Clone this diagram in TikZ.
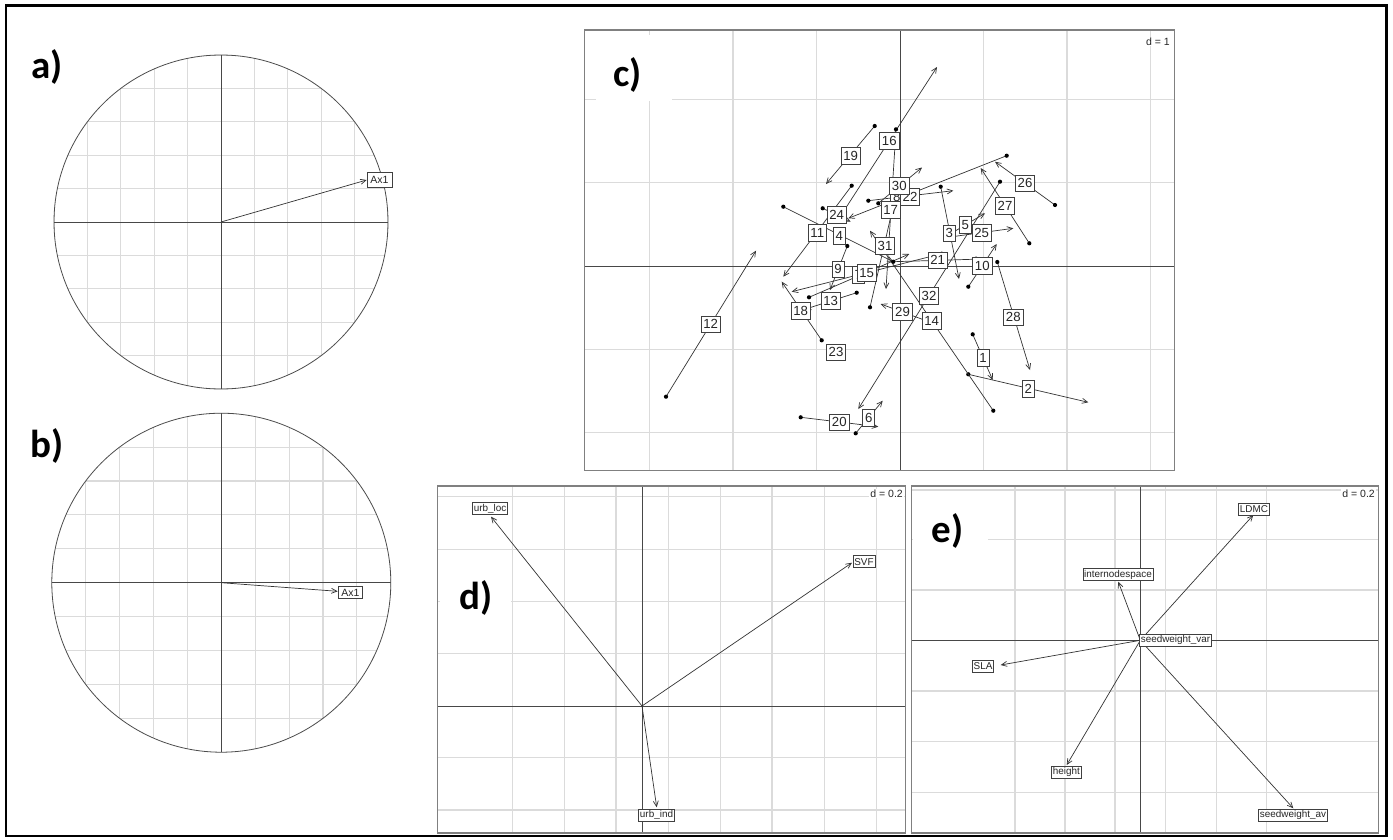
\documentclass[tikz,border=0pt]{standalone}
\usepackage{fontspec}
\setmainfont{Liberation Sans}
\newfontfamily\panelfont{Carlito}
\usetikzlibrary{arrows.meta}
\tikzset{
  gridl/.style={draw=black!14, line width=1.1pt},
  axisl/.style={draw=black!72, line width=0.9pt},
  framel/.style={draw=black!50, line width=1.3pt},
  circl/.style={draw=black!70, line width=0.8pt},
  conn/.style={draw=black!80, line width=0.7pt, -{Straight Barb[length=5.5pt,width=5pt]}},
  numbox/.style={draw=black!75, line width=0.8pt, fill=white, font=\fontsize{13.2}{13}\selectfont, text=black!85, inner xsep=2.4pt, inner ysep=0pt, minimum height=16.5pt},
  varbox/.style={draw=black!75, line width=0.7pt, fill=white, font=\fontsize{9.9}{10}\selectfont, text=black!85, inner xsep=1.3pt, inner ysep=0pt, minimum height=12pt},
  axbox/.style={draw=black!75, line width=0.7pt, fill=white, font=\fontsize{10.5}{10}\selectfont, text=black!85, inner sep=0pt},
  panellbl/.style={font=\panelfont\bfseries\fontsize{39}{39}\selectfont, inner sep=0pt},
  dlbl/.style={font=\fontsize{10.5}{10}\selectfont, text=black!85, fill=white, inner sep=1pt},
  patch/.style={fill=white},
  dotp/.style={fill=black},
}
\begin{document}
\begin{tikzpicture}[x=1pt,y=-1pt]
\useasboundingbox (0,0) rectangle (1393,839);
\fill[white] (0,0) rectangle (1393,839);

% ---------------- panel a ----------------
\begin{scope}
  \clip (221,222) circle[radius=167pt];
  \foreach \k in {-5,-4,-3,-2,-1,1,2,3,4,5} {
    \draw[gridl] ({221+\k*33.4},50) -- ({221+\k*33.4},394);
    \draw[gridl] (50,{222+\k*33.4}) -- (392,{222+\k*33.4});
  }
\end{scope}
\draw[axisl] (54,222) -- (388,222);
\draw[axisl] (221,55) -- (221,389);
\draw[circl] (221,222) circle[radius=167pt];
\coordinate (ao) at (221,222);
\coordinate (at) at (366.7,180);
\draw[conn] (ao) -- (at);
\node[axbox, minimum width=25pt, minimum height=15pt] (alab) at (379.5,180) {Ax1};
\node[panellbl] (apl) at (47,66.5) {a)};

% ---------------- panel b ----------------
\begin{scope}
  \clip (221.3,582.7) circle[radius=169.5pt];
  \foreach \k in {-5,-4,-3,-2,-1,1,2,3,4,5} {
    \draw[gridl] ({221.3+\k*33.9},410) -- ({221.3+\k*33.9},756);
    \draw[gridl] (48,{582.7+\k*33.9}) -- (394,{582.7+\k*33.9});
  }
\end{scope}
\draw[axisl] (51.8,582.7) -- (390.8,582.7);
\draw[axisl] (221.3,413.2) -- (221.3,752.2);
\draw[circl] (221.3,582.7) circle[radius=169.5pt];
\coordinate (bo) at (221.3,582.7);
\coordinate (bt) at (337.7,591.3);
\draw[conn] (bo) -- (bt);
\node[axbox, minimum width=24pt, minimum height=12pt] (blab) at (350.3,592.5) {Ax1};
\node[panellbl] (bpl) at (47,446) {b)};

% ---------------- panel c ----------------
\foreach \x in {649.5,733,816.5,983.5,1067,1150.5}
  \draw[gridl] (\x,30) -- (\x,470.7);
\foreach \y in {99.2,182.6,349.4,432.8}
  \draw[gridl] (584.7,\y) -- (1174.4,\y);
\draw[axisl] (900,30) -- (900,470.7);
\draw[axisl] (584.7,266) -- (1174.4,266);
\fill[patch] (596,35) rectangle (672,101);
\node[panellbl] (cpl) at (627.6,75) {c)};
\draw[framel] (584.7,30) rectangle (1174.4,470.7);
\node[dlbl, anchor=east] (cd) at (1171,41.5) {d = 1};

\foreach \n/\dx/\dy/\tx/\ty in {
  1/972.7/334.3/992.7/380, 2/968.3/374.3/1088.3/402.3, 3/940.7/186.7/959/279,
  4/783.3/206.7/893.3/261.7, 5/945.6/236.7/985/213.3, 6/855.7/433.3/882.7/400.7,
  7/809/297.3/909.3/254, 8/1006.7/155.7/848.3/218.3, 9/847.3/246/830/290,
  10/968.3/286.7/996.7/244, 11/851.7/185.7/783.3/276.7, 12/666/396.7/756/250.7,
  13/856.7/292.7/804.7/309.3, 14/993.3/410.7/870/230.7, 15/941.7/253.7/791.7/291.7,
  16/841.6/214.4/937/67, 17/896/129.3/886/289, 18/821.7/340.3/781.7/281.7,
  19/874.7/126/826/184, 20/800.7/417.3/878.3/426.7, 21/893.3/261.7/982/259,
  22/868.3/200.7/953.3/190.7, 24/822.7/208.3/850.7/221.7, 25/950/237/1013.3/228.3,
  26/1055/205/995/161.7, 27/1029.3/243.3/980.7/168, 28/997.3/262/1030/370,
  29/924.3/320/880.7/304, 30/878.3/203.3/922/167.5, 31/870/307.3/898/185,
  32/1000/181.7/858.3/409} {
  \coordinate (cd\n) at (\dx,\dy);
  \coordinate (ct\n) at (\tx,\ty);
  \draw[conn] (cd\n) -- (ct\n);
  \fill[dotp] (cd\n) circle[radius=2.1pt];
}
\foreach \n/\lx/\ly in {
  1/983/358, 2/1028.3/389, 3/949.3/233.3, 4/839.3/236, 5/965.3/225,
  6/868.7/417.7, 7/858.3/275, 8/896.7/197.3, 9/838/269.3, 10/982.3/266,
  11/817.3/232.7, 12/710.7/324.3, 13/830.7/301, 14/931.7/320.7, 15/866.7/272.7,
  16/889.3/140.7, 17/890.7/210, 18/800.7/310.7, 19/850.7/156, 20/839.3/422.3,
  21/937.7/260.3, 22/910/196.7, 23/836/352.3, 24/836.7/215, 25/981.7/232.7,
  26/1025/183.3, 27/1005/205.7, 28/1013.3/317.3, 29/902.5/312, 30/899.3/186,
  31/885/246, 32/929/296} {
  \node[numbox] (cl\n) at (\lx,\ly) {\n};
}

% ---------------- panel d ----------------
\foreach \x in {616,668.3,720.3,772,824.3,876.7,564.3,512.7}
  \draw[gridl] (\x,486) -- (\x,833);
\foreach \y in {496.8,549.3,601.7,653.3,757.7,810}
  \draw[gridl] (437.7,\y) -- (905.3,\y);
\draw[axisl] (642,486) -- (642,833);
\draw[axisl] (437.7,706) -- (905.3,706);
\fill[patch] (440,573) rectangle (511,624);
\node[panellbl] (dpl) at (476,597.5) {d)};
\draw[framel] (437.7,486) rectangle (905.3,833);
\node[dlbl, anchor=east] (dd) at (904,493.5) {d = 0.2};
\coordinate (dor) at (642,706);
\coordinate (dt1) at (491,516.7);
\coordinate (dt2) at (852,562.7);
\coordinate (dt3) at (656.7,807.3);
\draw[conn] (dor) -- (dt1);
\draw[conn] (dor) -- (dt2);
\draw[conn] (dor) -- (dt3);
\node[varbox] (dl1) at (490,508.5) {urb\_loc};
\node[varbox] (dl2) at (864,561.7) {SVF};
\node[varbox] (dl3) at (656.5,815) {urb\_ind};

% ---------------- panel e ----------------
\foreach \x in {1015,1065,1115,1165.7,1216.7,1266.7}
  \draw[gridl] (\x,486) -- (\x,833);
\foreach \y in {490,539.3,590,691,741.7,792.3}
  \draw[gridl] (911.5,\y) -- (1378.3,\y);
\draw[axisl] (1140.3,486) -- (1140.3,833);
\draw[axisl] (911.5,640.3) -- (1378.3,640.3);
\fill[patch] (913,500) rectangle (988,550);
\node[panellbl] (epl) at (947.5,530.5) {e)};
\draw[framel] (911.5,486) rectangle (1378.3,833);
\node[dlbl, anchor=east] (ed) at (1376,493.5) {d = 0.2};
\coordinate (eor) at (1140.3,640.3);
\coordinate (et1) at (1253.3,515);
\coordinate (et2) at (1118.3,581.7);
\coordinate (et3) at (1000.7,665);
\coordinate (et4) at (1066.7,765);
\coordinate (et5) at (1293.3,808.3);
\foreach \k in {1,...,5} \draw[conn] (eor) -- (et\k);
\node[varbox] (el1) at (1254,509) {LDMC};
\node[varbox] (el2) at (1118,574.7) {internodespace};
\node[varbox] (el3) at (983,666) {SLA};
\node[varbox] (el4) at (1066.3,772.3) {height};
\node[varbox] (el5) at (1293,815) {seedweight\_av};
\node[varbox] (el6) at (1175.5,640.3) {seedweight\_var};

% ---------------- outer frame ----------------
\draw[line width=2.7pt] (6,5.5) rectangle (1386.5,836);
\end{tikzpicture}
\end{document}
